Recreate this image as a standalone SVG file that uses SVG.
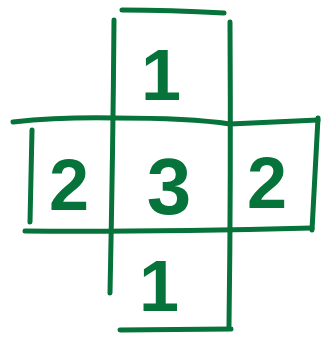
<svg xmlns="http://www.w3.org/2000/svg" width="321" height="337" viewBox="0 0 321 337">
<style>
.s{fill:none;stroke:#06733a;stroke-width:5;stroke-linecap:round;stroke-linejoin:round}
.t{fill:#06733a;font-family:"Liberation Sans",Arial,sans-serif;font-size:72px;font-weight:bold;text-anchor:middle}
</style>
<rect width="321" height="337" fill="#fff"/>
<g id="lines">
<path class="s" d="M122,10 Q170,10 224,13"/>
<path class="s" d="M114,20 Q113,150 110,293"/>
<path class="s" d="M230,22 Q231,180 229,326"/>
<path class="s" d="M120,330 L231,329"/>
<path class="s" d="M13,122 Q60,117 115,118 Q190,118 230,124 L318,120"/>
<path class="s" d="M318,118 L312,230"/>
<path class="s" d="M32,130 Q31,180 30,222"/>
<path class="s" d="M25,231 Q150,232 312,228"/>
</g>
<g id="top"><text class="t" x="161" y="100">1</text></g>
<g id="left"><text class="t" x="69" y="210">2</text></g>
<g id="center"><text class="t" x="169" y="214" style="font-size:80px">3</text></g>
<g id="right"><text class="t" x="267" y="208">2</text></g>
<g id="bottom"><text class="t" x="159" y="311">1</text></g>
</svg>
